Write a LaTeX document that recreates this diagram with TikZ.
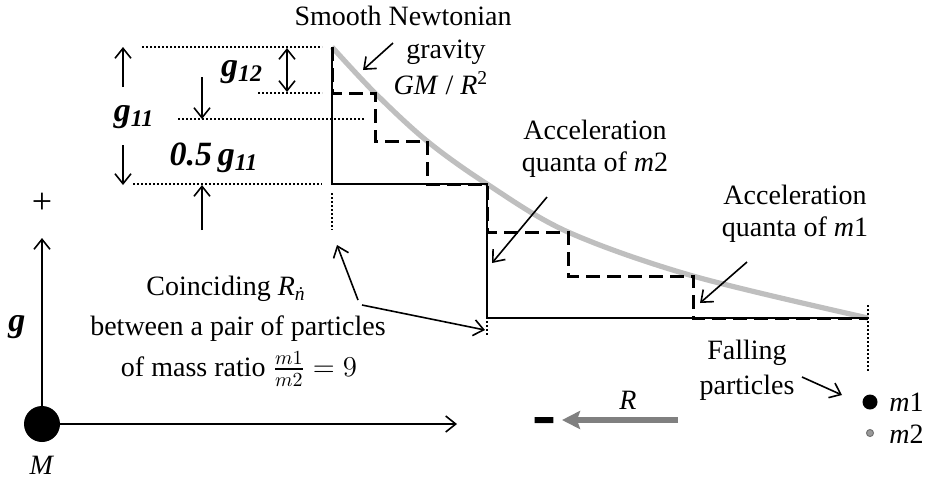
\documentclass[tikz,border=0pt]{standalone}
\usepackage{fontspec}
\setmainfont{Liberation Serif}
\usepackage{amsmath}
\usetikzlibrary{arrows.meta}

\begin{document}
\begin{tikzpicture}[x=0.5pt, y=-0.5pt, >={Straight Barb[length=5pt,width=8pt]},
  lbl/.style={font=\fontsize{14}{16}\selectfont, inner sep=0pt, align=center},
  gsym/.style={font=\fontsize{17}{20}\selectfont\bfseries\itshape, inner sep=0pt},
  guide/.style={line width=0.8pt, dash pattern=on 0.8pt off 1.2pt},
  pointer/.style={->, line width=0.8pt}]
  \useasboundingbox (0,0) rectangle (926,479);

  % Smooth Newtonian curve GM/R^2
  \draw[black!25, line width=2.6pt] plot[smooth, tension=0.55] coordinates
    {(332,47) (375,93) (427,141) (487,184) (568,232) (693,276) (868,318)};

  % Acceleration quanta of m1 (solid) and m2 (dashed)
  \draw[line width=1pt] (332,47) -- (332,184) -- (487,184) -- (487,318) -- (868,318);
  \draw[line width=1.5pt, dash pattern=on 7pt off 3.5pt]
    (332,47) -- (332,93) -- (375,93) -- (375,141) -- (427,141) -- (427,184) -- (487,184)
    -- (487,232) -- (568,232) -- (568,276) -- (693,276) -- (693,318) -- (868,318);

  % Dotted guides
  \draw[guide] (142,47) -- (322,47);
  \draw[guide] (258,93) -- (322,93);
  \draw[guide] (178,119) -- (365,119);
  \draw[guide] (133,184) -- (322,184);
  \draw[guide] (332,193) -- (332,230);
  \draw[guide] (487,321) -- (487,336);
  \draw[guide] (868,305) -- (868,372);

  % Dimension arrows
  \coordinate (gAfrom) at (123,87);  \coordinate (gAto) at (123,47);
  \coordinate (gBfrom) at (123,145); \coordinate (gBto) at (123,185);
  \coordinate (hAfrom) at (287,48);  \coordinate (hAto) at (287,92);
  \coordinate (qAfrom) at (202,77);  \coordinate (qAto) at (202,119);
  \coordinate (qBfrom) at (202,230); \coordinate (qBto) at (202,185);
  \draw[pointer] (gAfrom) -- (gAto);
  \draw[pointer] (gBfrom) -- (gBto);
  \draw[pointer, <->] (hAfrom) -- (hAto);
  \draw[pointer] (qAfrom) -- (qAto);
  \draw[pointer] (qBfrom) -- (qBto);

  \node[gsym] (gEleven) at (134,117) {g\textsubscript{11}};
  \node[gsym] (gTwelve) at (242,72) {g\textsubscript{12}};
  \node[gsym] (gHalf) at (214,158) {0.5\,g\textsubscript{11}};

  % Axes and central mass
  \node[circle, fill, inner sep=0pt, minimum size=18pt] (mass) at (42,424) {};
  \node[lbl] (massLbl) at (42,465) {\textit{M}};
  \coordinate (gTip) at (42,238);
  \coordinate (rTip) at (457,424);
  \draw[pointer] (mass) -- (gTip);
  \draw[pointer] (mass) -- (rTip);
  \node[font=\fontsize{18}{20}\selectfont] (plus) at (42,203) {+};
  \node[gsym] (gAxis) at (17,327) {g};

  % Labels with pointers
  \node[lbl] (smoothA) at (403,16) {Smooth Newtonian};
  \node[lbl] (smoothB) at (446,52) {gravity};
  \node[lbl] (smoothC) at (441,83) {\textit{GM} / \textit{R}\textsuperscript{2}};
  \coordinate (smoothFrom) at (393,43); \coordinate (smoothTo) at (363,70);
  \draw[pointer] (smoothFrom) -- (smoothTo);

  \node[lbl] (quantaTwo) at (595,149) {Acceleration\\quanta of \textit{m}2};
  \coordinate (quantaTwoTo) at (492,263);
  \draw[pointer] (547,197) coordinate (quantaTwoFrom) -- (quantaTwoTo);

  \node[lbl] (quantaOne) at (795,214) {Acceleration\\quanta of \textit{m}1};
  \coordinate (quantaOneTo) at (700,303);
  \draw[pointer] (747,262) coordinate (quantaOneFrom) -- (quantaOneTo);

  \node[lbl] (coincideA) at (226,289) {Coinciding \textit{R}\textsubscript{\textit{ṅ}}};
  \node[lbl] (coincideB) at (238,329) {between a pair of particles};
  \node[lbl] (coincideC) at (239,369) {of mass ratio $\frac{m1}{m2}=9$};
  \coordinate (coincideFrom) at (358,300);
  \coordinate (coincideUp) at (337,245);
  \coordinate (coincideRight) at (485,330);
  \draw[pointer] (coincideFrom) -- (coincideUp);
  \draw[pointer] (362,305) -- (coincideRight);

  \node[lbl, font=\fontsize{14}{17.5}\selectfont] (falling) at (747,370) {Falling\\particles};
  \coordinate (fallingFrom) at (802,377); \coordinate (fallingTo) at (842,395);
  \draw[pointer] (fallingFrom) -- (fallingTo);

  % Falling particles
  \node[circle, fill, inner sep=0pt, minimum size=7.5pt] (mOne) at (870,402) {};
  \node[circle, fill=black!40, draw=black!55, line width=0.5pt, inner sep=0pt,
    minimum size=3.5pt] (mTwo) at (870,433) {};
  \node[lbl, anchor=west] (mOneLbl) at (889,402) {\textit{m}1};
  \node[lbl, anchor=west] (mTwoLbl) at (889,434) {\textit{m}2};

  % Direction of R
  \node[lbl] (rLbl) at (628,400) {\textit{R}};
  \coordinate (rFrom) at (678,420); \coordinate (rTo) at (562,420);
  \draw[black!50, line width=3pt, -{Stealth[length=9pt, width=9pt, inset=1.5pt]}] (rFrom) -- (rTo);
  \node[font=\fontsize{36}{38}\selectfont\bfseries, anchor=base] (minus) at (544,437) {-};
\end{tikzpicture}
\end{document}
